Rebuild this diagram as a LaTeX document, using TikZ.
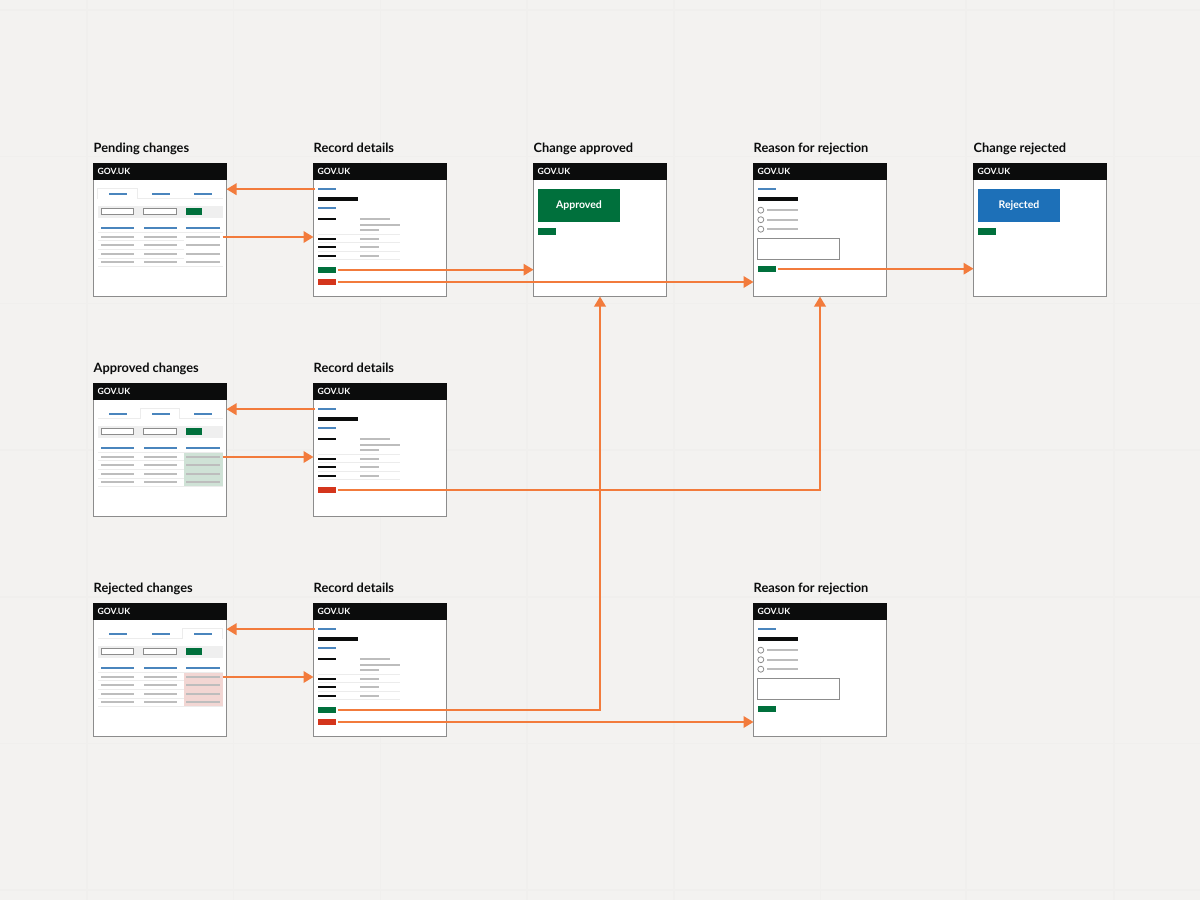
\documentclass[tikz,border=0pt]{standalone}
\usepackage{fontspec}
\setmainfont{Lato}
\usetikzlibrary{arrows.meta,calc}
\definecolor{bgc}{HTML}{F3F2F0}
\definecolor{gridc}{HTML}{F0EFED}
\definecolor{frameb}{HTML}{8C8C8C}
\definecolor{govblack}{HTML}{0B0C0C}
\definecolor{govblue}{HTML}{4A85BD}
\definecolor{govgreen}{HTML}{00703C}
\definecolor{govred}{HTML}{D4351C}
\definecolor{govbluebox}{HTML}{1D70B8}
\definecolor{govgray}{HTML}{BDBDBD}
\definecolor{divc}{HTML}{ECECEC}
\definecolor{filterc}{HTML}{EFEFEF}
\definecolor{hlgreen}{HTML}{CFE2D6}
\definecolor{hlred}{HTML}{F2D6D3}
\definecolor{orangec}{HTML}{F27B3C}
\tikzset{
  x=1pt,y=-1pt,
  gridline/.style={draw=gridc,line width=1.4pt},
  frame/.style={draw=frameb,line width=1pt,fill=white,minimum width=133pt,minimum height=133pt,inner sep=0pt,outer sep=0pt,anchor=north west},
  title/.style={anchor=base west,inner sep=0pt,font=\fontsize{12.8}{15}\bfseries\selectfont,text=govblack},
  gov/.style={anchor=base west,inner sep=0pt,text=white,font=\fontsize{8.6}{10}\bfseries\selectfont},
  btn/.style={minimum width=18.3pt,minimum height=6.4pt,inner sep=0pt,outer sep=0pt,anchor=north west,draw=none},
  banner/.style={minimum width=82pt,minimum height=33.3pt,inner sep=0pt,anchor=north west,text=white,font=\fontsize{10.5}{12}\bfseries\selectfont},
  conn/.style={draw=orangec,line width=1.9pt,-{Triangle[length=10pt,width=11.5pt]}},
}
% horizontal bar snapped to whole pixels: colour, x1, x2, y, thickness (even)
\newcommand{\seg}[5]{%
  \pgfmathsetmacro{\yc}{round(#4)+.5}%
  \fill[#1] (#2,\yc-#5/2) rectangle (#3,\yc+#5/2);}
\newcommand{\bluel}[3]{\seg{govblue}{#1}{#2}{#3}{2}}
\newcommand{\blackl}[3]{\seg{govblack}{#1}{#2}{#3}{2}}
\newcommand{\grayl}[3]{\seg{govgray}{#1}{#2}{#3}{2}}
\newcommand{\divl}[3]{%
  \pgfmathsetmacro{\yc}{round(#3)}%
  \fill[divc] (#1,\yc-.5) rectangle (#2,\yc+.5);}
% #1 frame name, #2 title
\newcommand{\screen}[2]{%
  \node[frame] (#1) at (0,0) {};
  \fill[govblack] (-.5,-.5) rectangle (133.5,16.5);
  \node[title] (#1title) at (0,-11.5) {#2};
  \node[gov] (#1gov) at (4,11) {GOV.UK};
}
% #1 frame name, #2 active tab left, #3 active tab right, #4 highlight colour
\newcommand{\tablebody}[4]{%
  \divl{4.3}{129}{35}
  \fill[white] (#2+.5,34) rectangle (#3-.5,36);
  \fill[divc] (#2-.5,24.5) rectangle (#3+.5,25.5);
  \fill[divc] (#2-.5,24.5) rectangle (#2+.5,35);
  \fill[divc] (#3-.5,24.5) rectangle (#3+.5,35);
  \bluel{15}{33.3}{30}\bluel{58}{76}{30}\bluel{100}{118.3}{30}
  \fill[filterc] (4.3,42) rectangle (129,54);
  \filldraw[draw=frameb,fill=white,line width=.9pt] (7.5,45) rectangle (40.3,51);
  \filldraw[draw=frameb,fill=white,line width=.9pt] (50.3,45) rectangle (83,51);
  \fill[govgreen] (92.7,44.7) rectangle (108,51.3);
  \bluel{7.3}{40.3}{64}\bluel{50}{83.3}{64}\bluel{92.7}{126.3}{64}
  \foreach \yy in {69,77,86,95,103}{\divl{4.3}{129}{\yy}}
  \fill[#4] (90,69) rectangle (129,102.7);
  \foreach \yy in {73,81,90,98}{\grayl{7.3}{40.3}{\yy}\grayl{50}{83.3}{\yy}\grayl{92.7}{126.3}{\yy}}
  \coordinate (#1out) at (129,73.5);
}
% #1 frame name
\newcommand{\recordbody}[1]{%
  \bluel{4}{22.3}{25}
  \coordinate (#1in) at (1.5,25.7);
  \seg{govblack}{4}{44}{35}{4}
  \bluel{4}{22.3}{44}
  \blackl{4}{22.3}{55}
  \grayl{46.7}{76}{55}\grayl{46.7}{86.7}{61}\grayl{46.7}{65.3}{66}
  \foreach \yy in {71,79,88,96}{\divl{4}{86.7}{\yy}}
  \foreach \yy in {75,83,92}{\blackl{4}{22.3}{\yy}\grayl{46.7}{65.3}{\yy}}
}
% #1 frame name
\newcommand{\reasonbody}[1]{%
  \bluel{4}{22.3}{25}
  \seg{govblack}{4}{44}{35}{4}
  \foreach \yy in {46.7,56.2,65.7}{
    \filldraw[draw=frameb,fill=white,line width=.8pt] (7.3,\yy) circle[radius=3];
    \grayl{13.7}{44}{\yy-.5}}
  \filldraw[draw=frameb,fill=white,line width=.9pt] (4,75) rectangle (86.3,95.7);
  \node[btn,fill=govgreen] (#1btn) at (4,102) {};
}
\begin{document}
\begin{tikzpicture}
\useasboundingbox (0,0) rectangle (1200,900);
\fill[bgc] (0,0) rectangle (1200,900);
\foreach \xx in {87,233.7,380.4,527,673.8,820.5,966,1114}{\draw[gridline] (\xx,0) -- (\xx,900);}
\foreach \yy in {10,156.7,303.4,450,596.8,743.5,890}{\draw[gridline] (0,\yy) -- (1200,\yy);}

% row 1
\begin{scope}[shift={(93.5,163.5)}]
  \screen{pend}{Pending changes}
  \tablebody{pend}{4.3}{44}{white}
\end{scope}
\begin{scope}[shift={(313.5,163.5)}]
  \screen{reca}{Record details}
  \recordbody{reca}
  \node[btn,fill=govgreen] (recagreen) at (4,103) {};
  \node[btn,fill=govred] (recared) at (4,115.3) {};
\end{scope}
\begin{scope}[shift={(533.5,163.5)}]
  \screen{appr}{Change approved}
  \node[banner,fill=govgreen] (apprbox) at (4.3,25) {Approved};
  \node[btn,fill=govgreen] (apprbtn) at (4.3,64.7) {};
\end{scope}
\begin{scope}[shift={(753.5,163.5)}]
  \screen{reasa}{Reason for rejection}
  \reasonbody{reasa}
\end{scope}
\begin{scope}[shift={(973.5,163.5)}]
  \screen{rejd}{Change rejected}
  \node[banner,fill=govbluebox] (rejdbox) at (4.3,25) {Rejected};
  \node[btn,fill=govgreen] (rejdbtn) at (4.3,64.7) {};
\end{scope}

% row 2
\begin{scope}[shift={(93.5,383.5)}]
  \screen{aprl}{Approved changes}
  \tablebody{aprl}{47}{86}{hlgreen}
\end{scope}
\begin{scope}[shift={(313.5,383.5)}]
  \screen{recb}{Record details}
  \recordbody{recb}
  \node[btn,fill=govred] (recbred) at (4,103) {};
\end{scope}

% row 3
\begin{scope}[shift={(93.5,603.5)}]
  \screen{rejl}{Rejected changes}
  \tablebody{rejl}{89}{129}{hlred}
\end{scope}
\begin{scope}[shift={(313.5,603.5)}]
  \screen{recc}{Record details}
  \recordbody{recc}
  \node[btn,fill=govgreen] (reccgreen) at (4,103) {};
  \node[btn,fill=govred] (reccred) at (4,115.3) {};
\end{scope}
\begin{scope}[shift={(753.5,603.5)}]
  \screen{reasb}{Reason for rejection}
  \reasonbody{reasb}
\end{scope}

% connectors
\draw[conn] (recain) -- (recain -| pend.east);
\draw[conn] (pendout) -- (pendout -| reca.west);
\draw[conn] (recbin) -- (recbin -| aprl.east);
\draw[conn] (aprlout) -- (aprlout -| recb.west);
\draw[conn] (reccin) -- (reccin -| rejl.east);
\draw[conn] (rejlout) -- (rejlout -| recc.west);
\draw[conn,shorten <=2pt] (recagreen.east) -- (recagreen.east -| appr.west);
\draw[conn,shorten <=2pt] (recared.east) -- (recared.east -| reasa.west);
\draw[conn,shorten <=2pt] (reasabtn.east) -- (reasabtn.east -| rejd.west);
\draw[conn,shorten <=2pt] (recbred.east) -- (recbred.east -| reasa.south) -- (reasa.south);
\draw[conn,shorten <=2pt] (reccgreen.east) -- (reccgreen.east -| appr.south) -- (appr.south);
\draw[conn,shorten <=2pt] (reccred.east) -- (reccred.east -| reasb.west);
\end{tikzpicture}
\end{document}
